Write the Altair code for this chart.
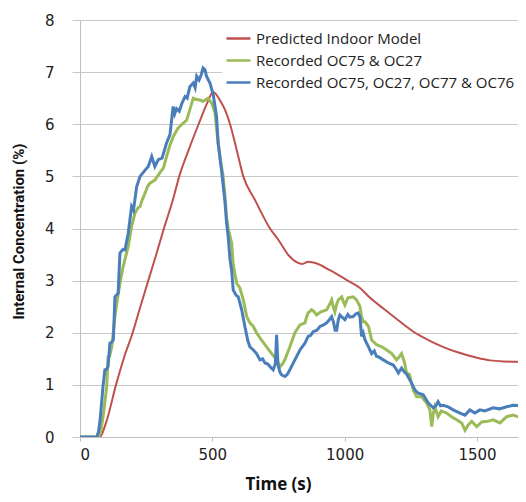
import altair as alt
import pandas as pd

SERIES = ["Predicted Indoor Model", "Recorded OC75 & OC27", "Recorded OC75, OC27, OC77 & OC76"]
COLORS = ["#C0504D", "#9BBB59", "#4A7EBB"]
WIDTHS = [2.0, 3.0, 3.0]
INTERP = ["monotone", "linear", "linear"]

X_TICKS = [0, 500, 1000, 1500]
Y_TICKS = [0, 1, 2, 3, 4, 5, 6, 7, 8]

red_t = [0, 75, 100, 136, 168, 199, 228, 258, 288, 317, 351, 375, 410, 448, 480, 503,
         530, 550, 567, 590, 617, 661, 718, 750, 786, 820, 840, 862, 895, 944, 1012,
         1058, 1096, 1150, 1200, 1266, 1320, 1371, 1430, 1500, 1550, 1600, 1685]
red_v = [0, 0, 0.3, 1.0, 1.55, 2.0, 2.5, 3.0, 3.5, 4.0, 4.55, 5.0, 5.5, 6.0, 6.4, 6.62,
         6.45, 6.25, 6.0, 5.55, 5.0, 4.55, 4.0, 3.78, 3.5, 3.35, 3.32, 3.36, 3.33, 3.2, 3.0,
         2.86, 2.67, 2.45, 2.25, 2.0, 1.85, 1.73, 1.62, 1.52, 1.47, 1.45, 1.44]

green_t = [0, 70, 80, 90, 101, 106, 112, 120, 132, 140, 151, 163, 172, 182, 195, 208, 220,
           227, 235, 246, 255, 264, 283, 302, 315, 327, 340, 352, 362, 371, 385, 403, 415,
           428, 437, 446, 455, 465, 475, 484, 497, 510, 522, 531, 541, 548, 554, 560, 567,
           573, 579, 592, 604, 617, 630, 642, 655, 667, 686, 705, 724, 743, 756, 765, 774,
           793, 812, 831, 850, 856, 862, 875, 885, 894, 910, 932, 944, 951, 957, 963, 970,
           976, 989, 995, 1001, 1008, 1013, 1032, 1045, 1058, 1064, 1070, 1077, 1090, 1102,
           1121, 1140, 1159, 1178, 1196, 1208, 1215, 1225, 1234, 1245, 1259, 1272, 1291,
           1310, 1322, 1329, 1335, 1341, 1353, 1365, 1385, 1404, 1423, 1442, 1455, 1467,
           1480, 1499, 1518, 1540, 1561, 1587, 1612, 1636, 1660, 1685]
green_v = [0, 0, 0.15, 0.5, 0.97, 1.54, 1.55, 1.73, 2.31, 2.6, 2.95, 3.27, 3.45, 3.65, 4.04,
           4.3, 4.4, 4.42, 4.55, 4.68, 4.8, 4.87, 4.93, 5.07, 5.16, 5.38, 5.6, 5.76, 5.85,
           5.93, 6.0, 6.08, 6.28, 6.5, 6.48, 6.47, 6.46, 6.44, 6.47, 6.5, 6.41, 6.22, 5.64,
           5.3, 5.0, 4.6, 4.2, 4.0, 3.85, 3.72, 3.3, 2.95, 2.86, 2.63, 2.31, 2.19, 2.12, 2.0,
           1.86, 1.73, 1.6, 1.48, 1.35, 1.4, 1.48, 1.73, 2.0, 2.15, 2.19, 2.3, 2.38, 2.44,
           2.4, 2.34, 2.4, 2.44, 2.55, 2.63, 2.5, 2.4, 2.55, 2.63, 2.69, 2.6, 2.53, 2.62,
           2.67, 2.69, 2.63, 2.5, 2.31, 2.21, 2.21, 2.12, 1.86, 1.77, 1.73, 1.67, 1.6, 1.48,
           1.55, 1.6, 1.45, 1.23, 1.2, 0.9, 0.77, 0.77, 0.65, 0.52, 0.2, 0.45, 0.58, 0.39,
           0.5, 0.46, 0.39, 0.33, 0.27, 0.13, 0.23, 0.3, 0.2, 0.29, 0.3, 0.33, 0.27, 0.39,
           0.42, 0.38, 0.36]

blue_t = [0, 63, 70, 76, 87, 94, 100, 106, 113, 120, 126, 132, 144, 151, 162, 170, 182, 195,
          202, 214, 227, 246, 258, 271, 283, 296, 310, 327, 340, 352, 358, 365, 375, 385,
          397, 405, 415, 428, 435, 441, 450, 458, 465, 472, 478, 491, 503, 516, 522, 535,
          548, 554, 560, 567, 573, 579, 590, 598, 611, 623, 634, 642, 655, 667, 680, 690,
          699, 710, 718, 730, 738, 743, 748, 755, 762, 774, 783, 793, 812, 831, 850, 862,
          872, 881, 895, 907, 920, 932, 942, 951, 958, 964, 970, 976, 982, 990, 1001, 1012,
          1020, 1032, 1042, 1051, 1058, 1064, 1070, 1077, 1090, 1102, 1112, 1120, 1127,
          1146, 1165, 1184, 1195, 1203, 1215, 1225, 1235, 1247, 1266, 1278, 1297, 1316,
          1335, 1345, 1353, 1362, 1372, 1391, 1410, 1436, 1455, 1473, 1492, 1511, 1530,
          1561, 1585, 1612, 1636, 1660, 1685]
blue_v = [0, 0, 0.1, 0.33, 0.97, 1.29, 1.3, 1.35, 1.8, 1.82, 1.86, 2.69, 2.76, 3.53, 3.6,
          3.59, 3.9, 4.42, 4.35, 4.8, 5.0, 5.12, 5.19, 5.38, 5.19, 5.32, 5.35, 5.64, 5.8,
          6.34, 6.2, 6.3, 6.25, 6.4, 6.53, 6.5, 6.72, 6.79, 6.7, 6.92, 6.85, 6.95, 7.08,
          7.05, 6.92, 6.79, 6.58, 6.15, 5.64, 5.1, 4.5, 4.1, 3.84, 3.4, 3.2, 2.82, 2.72,
          2.69, 2.44, 2.12, 1.85, 1.73, 1.67, 1.6, 1.48, 1.5, 1.42, 1.4, 1.35, 1.29, 1.4,
          1.96, 1.4, 1.25, 1.19, 1.16, 1.2, 1.29, 1.48, 1.67, 1.8, 1.93, 1.95, 2.02, 2.05,
          2.12, 2.15, 2.19, 2.25, 2.31, 2.2, 2.05, 2.05, 2.25, 2.34, 2.3, 2.25, 2.35, 2.3,
          2.31, 2.36, 2.38, 2.3, 1.93, 2.0, 1.86, 1.73, 1.6, 1.65, 1.55, 1.54, 1.48, 1.42,
          1.38, 1.3, 1.23, 1.32, 1.25, 1.2, 1.09, 0.9, 0.84, 0.81, 0.65, 0.56, 0.6, 0.68,
          0.6, 0.61, 0.58, 0.52, 0.46, 0.42, 0.52, 0.46, 0.52, 0.5, 0.56, 0.54, 0.58, 0.61,
          0.6, 0.58]

frames = []
for name, ts, vs in zip(SERIES, [red_t, green_t, blue_t], [red_v, green_v, blue_v]):
    frames.append(pd.DataFrame({"t": ts, "v": vs, "s": name}))
df = pd.concat(frames, ignore_index=True)

x_enc = alt.X(
    "t:Q",
    scale=alt.Scale(domain=[0, 1655], nice=False, zero=False),
    axis=alt.Axis(values=X_TICKS, format="d", title="Time (s)"),
)
y_enc = alt.Y(
    "v:Q",
    scale=alt.Scale(domain=[0, 8], nice=False),
    axis=alt.Axis(values=Y_TICKS, format="d", title="Internal Concentration (%)",
                  labelPadding=18, tickSize=8, labelAlign="right"),
)
color_enc = alt.Color(
    "s:N",
    scale=alt.Scale(domain=SERIES, range=COLORS),
    legend=alt.Legend(
        title=None, orient="none", legendX=142, legendY=2, symbolType="stroke",
        symbolSize=576, symbolStrokeWidth=2.5, labelFont="Open Sans", labelFontSize=15,
        labelColor="#222222", fillColor="white", padding=3, rowPadding=0, labelOffset=4,
        labelLimit=400,
    ),
)

layers = []
for name, w, ip in zip(SERIES, WIDTHS, INTERP):
    layers.append(
        alt.Chart(df)
        .transform_filter(alt.datum.s == name)
        .mark_line(strokeWidth=w, clip=True, interpolate=ip)
        .encode(x=x_enc, y=y_enc, color=color_enc)
    )

chart = (
    alt.layer(*layers)
    .properties(
        width=438, height=417,
        autosize=alt.AutoSizeParams(type="none"),
        padding={"left": 72, "top": 12, "right": 0, "bottom": 57},
    )
    .configure_view(stroke=None)
    .configure_axisX(
        grid=False, ticks=True, tickSize=4, labelPadding=6,
        domainColor="#bfbfbf", tickColor="#bfbfbf",
        labelFont="DejaVu Sans", labelFontSize=15, labelColor="#222222",
        titleFont="Open Sans", titleFontSize=17, titleFontWeight="bold", titleColor="#111111",
        titleX=198, titleY=56, titleAlign="center", titleBaseline="bottom",
    )
    .configure_axisY(
        grid=True, gridColor="#c8c8c8", ticks=True,
        domainColor="#bfbfbf", tickColor="#c8c8c8",
        labelFont="DejaVu Sans", labelFontSize=15, labelColor="#222222",
        titleFont="Roboto", titleFontSize=15, titleFontWeight="bold", titleColor="#111111",
        titleAngle=270, titleX=-62, titleY=211, titleAlign="center", titleBaseline="middle",
    )
)

chart.save("out.html", embed_options={"renderer": "svg", "actions": False})
